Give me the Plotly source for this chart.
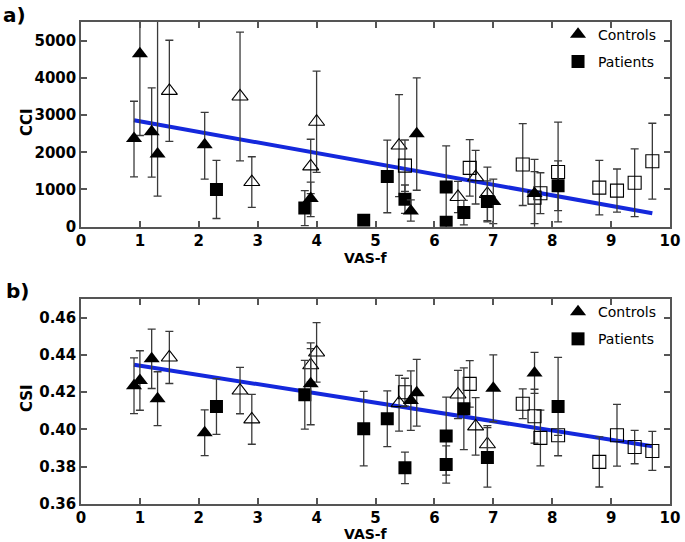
import plotly.graph_objects as go

# ---------------- Panel a) CCI ----------------
a_ctrl_fill_x = [0.9, 1.0, 1.2, 1.3, 2.1, 3.9, 5.6, 5.7, 7.0, 7.7]
a_ctrl_fill_y = [2370, 4650, 2550, 1950, 2200, 760, 420, 2500, 680, 890]
a_ctrl_fill_ep = [1000, 2200, 1180, 4000, 870, 440, 300, 1500, 600, 920]
a_ctrl_fill_em = [1030, 2200, 1220, 1130, 920, 490, 270, 1520, 600, 920]

a_ctrl_open_x = [1.5, 2.7, 2.9, 3.9, 4.0, 5.4, 6.4, 6.7, 6.9]
a_ctrl_open_y = [3650, 3500, 1200, 1620, 2820, 2180, 800, 1330, 880]
a_ctrl_open_e = [1360, 1730, 680, 730, 1360, 1370, 420, 720, 720]

a_pat_fill_x = [2.3, 3.8, 4.8, 5.2, 5.5, 6.2, 6.2, 6.5, 6.9, 8.1]
a_pat_fill_y = [1000, 500, 170, 1350, 740, 1070, 120, 380, 680, 1100]
a_pat_fill_e = [780, 470, 0, 975, 380, 1100, 0, 330, 550, 670]

a_pat_open_x = [5.5, 6.6, 7.5, 7.7, 7.8, 8.1, 8.8, 9.1, 9.4, 9.7]
a_pat_open_y = [1640, 1580, 1670, 780, 900, 1470, 1050, 970, 1180, 1760]
a_pat_open_e = [690, 760, 1100, 700, 550, 1340, 730, 580, 910, 1020]

a_fit_x = [0.9, 9.7]
a_fit_y = [2860, 360]

# ---------------- Panel b) CSI ----------------
b_ctrl_fill_x = [0.9, 1.0, 1.2, 1.3, 2.1, 3.9, 5.6, 5.7, 7.0, 7.7]
b_ctrl_fill_y = [0.4235, 0.4263, 0.4380, 0.4165, 0.3982, 0.4245, 0.4155, 0.4197, 0.4221, 0.4304]
b_ctrl_fill_e = [0.015, 0.016, 0.016, 0.0145, 0.0123, 0.022, 0.016, 0.018, 0.018, 0.011]

b_ctrl_open_x = [1.5, 2.7, 2.9, 3.9, 4.0, 5.4, 6.4, 6.7, 6.9]
b_ctrl_open_y = [0.4387, 0.4209, 0.4054, 0.4345, 0.4414, 0.4141, 0.4188, 0.4016, 0.3920]
b_ctrl_open_e = [0.014, 0.0125, 0.0134, 0.009, 0.016, 0.015, 0.013, 0.0155, 0.010]

b_pat_fill_x = [2.3, 3.8, 4.8, 5.2, 5.5, 6.2, 6.2, 6.5, 6.9, 8.1]
b_pat_fill_y = [0.4123, 0.4186, 0.4004, 0.4057, 0.3793, 0.3964, 0.3811, 0.4111, 0.3849, 0.4123]
b_pat_fill_e = [0.015, 0.0185, 0.020, 0.015, 0.0085, 0.021, 0.010, 0.022, 0.016, 0.0265]

b_pat_open_x = [5.5, 6.6, 7.5, 7.7, 7.8, 8.1, 8.8, 9.1, 9.4, 9.7]
b_pat_open_y = [0.4200, 0.4245, 0.4138, 0.4071, 0.3954, 0.3968, 0.3825, 0.3968, 0.3905, 0.3884]
b_pat_open_e = [0.0075, 0.0125, 0.008, 0.0145, 0.015, 0.0, 0.0135, 0.0166, 0.009, 0.0105]

b_fit_x = [0.9, 9.7]
b_fit_y = [0.4348, 0.3909]

x_ticks = list(range(0, 11))
a_y_ticks = [0, 1000, 2000, 3000, 4000, 5000]
b_y_ticks = [0.36, 0.38, 0.40, 0.42, 0.44, 0.46]

FONT = "DejaVu Sans"
FIT_COLOR = "#1428dc"
ERR_COLOR = "#3a3a3a"
FRAME = "#555555"


def err(arr, arrminus=None):
    d = dict(type="data", array=arr, color=ERR_COLOR, thickness=1.3, width=4, visible=True)
    if arrminus is not None:
        d["symmetric"] = False
        d["arrayminus"] = arrminus
    return d


fig = go.Figure()

panels = [
    ("x", "y", "legend", a_fit_x, a_fit_y,
     (a_ctrl_fill_x, a_ctrl_fill_y, err(a_ctrl_fill_ep, a_ctrl_fill_em)),
     (a_ctrl_open_x, a_ctrl_open_y, err(a_ctrl_open_e)),
     (a_pat_fill_x, a_pat_fill_y, err(a_pat_fill_e)),
     (a_pat_open_x, a_pat_open_y, err(a_pat_open_e))),
    ("x2", "y2", "legend2", b_fit_x, b_fit_y,
     (b_ctrl_fill_x, b_ctrl_fill_y, err(b_ctrl_fill_e)),
     (b_ctrl_open_x, b_ctrl_open_y, err(b_ctrl_open_e)),
     (b_pat_fill_x, b_pat_fill_y, err(b_pat_fill_e)),
     (b_pat_open_x, b_pat_open_y, err(b_pat_open_e))),
]

for xa, ya, lg, fx, fy, cf, co, pf, po in panels:
    fig.add_trace(go.Scatter(x=fx, y=fy, mode="lines", xaxis=xa, yaxis=ya,
                             line=dict(color=FIT_COLOR, width=4), showlegend=False,
                             hoverinfo="skip"))
    # open markers
    fig.add_trace(go.Scatter(x=co[0], y=co[1], error_y=co[2], mode="markers",
                             xaxis=xa, yaxis=ya, showlegend=False,
                             marker=dict(symbol="triangle-up-open", size=14, color="black",
                                         line=dict(width=1.1))))
    fig.add_trace(go.Scatter(x=po[0], y=po[1], error_y=po[2], mode="markers",
                             xaxis=xa, yaxis=ya, showlegend=False,
                             marker=dict(symbol="square-open", size=13, color="black",
                                         line=dict(width=1.1))))
    # filled markers
    fig.add_trace(go.Scatter(x=pf[0], y=pf[1], error_y=pf[2], mode="markers",
                             xaxis=xa, yaxis=ya, name="Patients", legend=lg,
                             legendrank=2, legendgroup="p" + xa,
                             marker=dict(symbol="square", size=13, color="black")))
    fig.add_trace(go.Scatter(x=cf[0], y=cf[1], error_y=cf[2], mode="markers",
                             xaxis=xa, yaxis=ya, name="Controls", legend=lg,
                             legendrank=1, legendgroup="c" + xa,
                             marker=dict(symbol="triangle-up", size=14, color="black")))

tickfont = dict(family=FONT, size=15, color="black", weight="bold")
xdom = [81 / 685, 670 / 685]
ya_dom = [1 - 226.7 / 542, 1 - 22 / 542]
yb_dom = [1 - 503.7 / 542, 1 - 299.3 / 542]

axis_common = dict(showline=True, linecolor=FRAME, linewidth=1.5, mirror="ticks",
                   ticks="inside", ticklen=6, tickwidth=1.5, tickcolor=FRAME,
                   showgrid=False, zeroline=False, tickfont=tickfont, automargin=False)

fig.update_layout(
    width=685, height=542,
    margin=dict(l=0, r=0, t=0, b=0, autoexpand=False),
    paper_bgcolor="white", plot_bgcolor="white",
    font=dict(family=FONT, color="black"),
    xaxis=dict(domain=xdom, anchor="y", range=[0, 10], tickvals=x_ticks, **axis_common),
    yaxis=dict(domain=ya_dom, anchor="x", range=[0, 5500], tickvals=a_y_ticks, **axis_common),
    xaxis2=dict(domain=xdom, anchor="y2", range=[0, 10], tickvals=x_ticks, **axis_common),
    yaxis2=dict(domain=yb_dom, anchor="x2", range=[0.36, 0.47], tickvals=b_y_ticks,
                tickformat=".2f", **axis_common),
    legend=dict(x=0.965, y=ya_dom[1] + 0.006, xanchor="right", yanchor="top",
                bgcolor="rgba(0,0,0,0)", font=dict(family=FONT, size=14, color="black"),
                tracegroupgap=6, itemsizing="trace"),
    legend2=dict(x=0.965, y=yb_dom[1] + 0.006, xanchor="right", yanchor="top",
                 bgcolor="rgba(0,0,0,0)", font=dict(family=FONT, size=14, color="black"),
                 tracegroupgap=6, itemsizing="trace"),
    showlegend=True,
)

labels = [
    dict(text="a)", x=14, y=15, size=20, weight="bold", angle=0),
    dict(text="b)", x=17, y=291, size=20, weight="bold", angle=0),
    dict(text="VAS-f", x=366, y=258, size=14, weight="bold", angle=0),
    dict(text="VAS-f", x=366, y=534, size=14, weight="bold", angle=0),
    dict(text="CCI", x=27, y=122, size=15, weight="bold", angle=-90),
    dict(text="CSI", x=27, y=398, size=15, weight="bold", angle=-90),
]
for lb in labels:
    fig.add_annotation(text=lb["text"], xref="paper", yref="paper",
                       x=lb["x"] / 685, y=1 - lb["y"] / 542, xanchor="center", yanchor="middle",
                       showarrow=False, textangle=lb["angle"],
                       font=dict(family=FONT, size=lb["size"], color="black", weight=lb["weight"]))

fig.write_html("out.html", config={"displayModeBar": False},
               post_script="document.body.style.margin='0';document.body.style.overflow='hidden';")
